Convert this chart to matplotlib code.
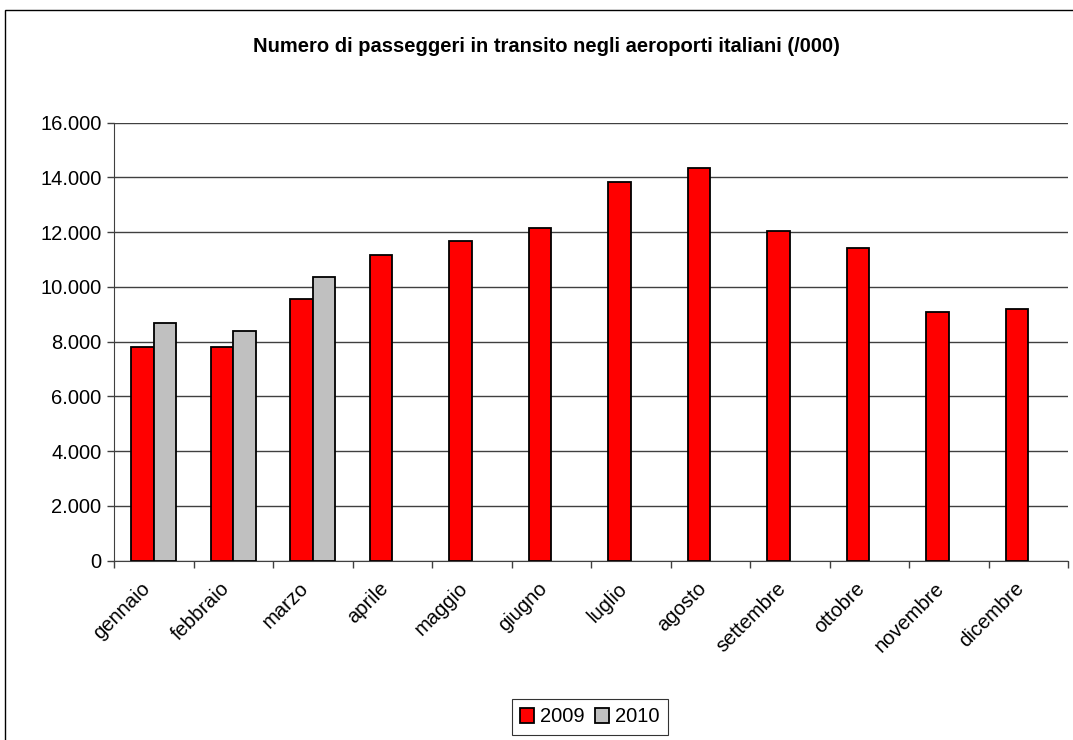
import numpy as np
import matplotlib
matplotlib.use('Agg')
import matplotlib.pyplot as plt
import matplotlib.transforms as mtransforms
from matplotlib.ticker import FuncFormatter
from matplotlib.patches import Rectangle

plt.rcParams['font.family'] = ['Liberation Sans', 'DejaVu Sans']

mesi = ['gennaio', 'febbraio', 'marzo', 'aprile', 'maggio', 'giugno',
        'luglio', 'agosto', 'settembre', 'ottobre', 'novembre', 'dicembre']
val_2009 = [7817, 7817, 9571, 11167, 11689, 12142, 13823, 14334, 12055, 11411, 9073, 9205]
val_2010 = [8694, 8402, 10374, np.nan, np.nan, np.nan, np.nan, np.nan, np.nan, np.nan, np.nan, np.nan]

fig = plt.figure(figsize=(10.73, 7.40), dpi=100)
ax = fig.add_axes([114/1073, 1 - 560.7/740, (1068 - 114)/1073, (560.7 - 122.7)/740])

x = np.arange(len(mesi))
w = 1 / 3.5
ax.bar(x - w/2, val_2009, w, color='#FF0000', edgecolor='black', linewidth=1.3, label='2009', zorder=3)
ax.bar(x + w/2, val_2010, w, color='#C0C0C0', edgecolor='black', linewidth=1.3, label='2010', zorder=3)

ax.set_xlim(-0.5, len(mesi) - 0.5)
ax.set_ylim(0, 16000)
ax.set_yticks(np.arange(0, 16001, 2000))
ax.yaxis.set_major_formatter(FuncFormatter(lambda v, p: f'{int(v):,}'.replace(',', '.')))
ax.yaxis.grid(True, color='#404040', linewidth=1)
ax.set_axisbelow(True)
ax.tick_params(axis='y', labelsize=14.5, length=5, width=1, color='#404040', pad=4)

# category boundary ticks
ax.set_xticks(np.arange(-0.5, len(mesi), 1))
ax.set_xticklabels([])
ax.tick_params(axis='x', length=5, width=1, color='#404040')
ax.set_xticks(x, minor=True)
ax.set_xticklabels(mesi, minor=True, rotation=45, ha='right', va='center',
                   rotation_mode='anchor', fontsize=14.5)
ax.tick_params(axis='x', which='minor', length=0, pad=18)
shift = mtransforms.ScaledTranslation(-7/100, 0, fig.dpi_scale_trans)
for lab in ax.get_xticklabels(minor=True):
    lab.set_transform(lab.get_transform() + shift)

for s in ['top', 'right']:
    ax.spines[s].set_visible(False)
ax.spines['left'].set_color('#404040')
ax.spines['bottom'].set_color('#404040')

fig.text(546/1073, 1 - 47/740, 'Numero di passeggeri in transito negli aeroporti italiani (/000)',
         ha='center', va='center', fontsize=14.5, fontweight='bold')

leg = fig.legend(loc='center', bbox_to_anchor=(590/1073, 1 - 717/740), ncol=2, fontsize=14.5,
                 frameon=True, fancybox=False, edgecolor='black', handlelength=0.7, handleheight=0.7,
                 handletextpad=0.3, columnspacing=0.5, borderpad=0.4)
leg.get_frame().set_linewidth(0.8)

fig.patches.append(Rectangle((5/1073, -0.1), 1.2, 1 - 10/740 + 0.1, transform=fig.transFigure,
                             fill=False, edgecolor='black', linewidth=1))

fig.savefig('out.png', dpi=100)
